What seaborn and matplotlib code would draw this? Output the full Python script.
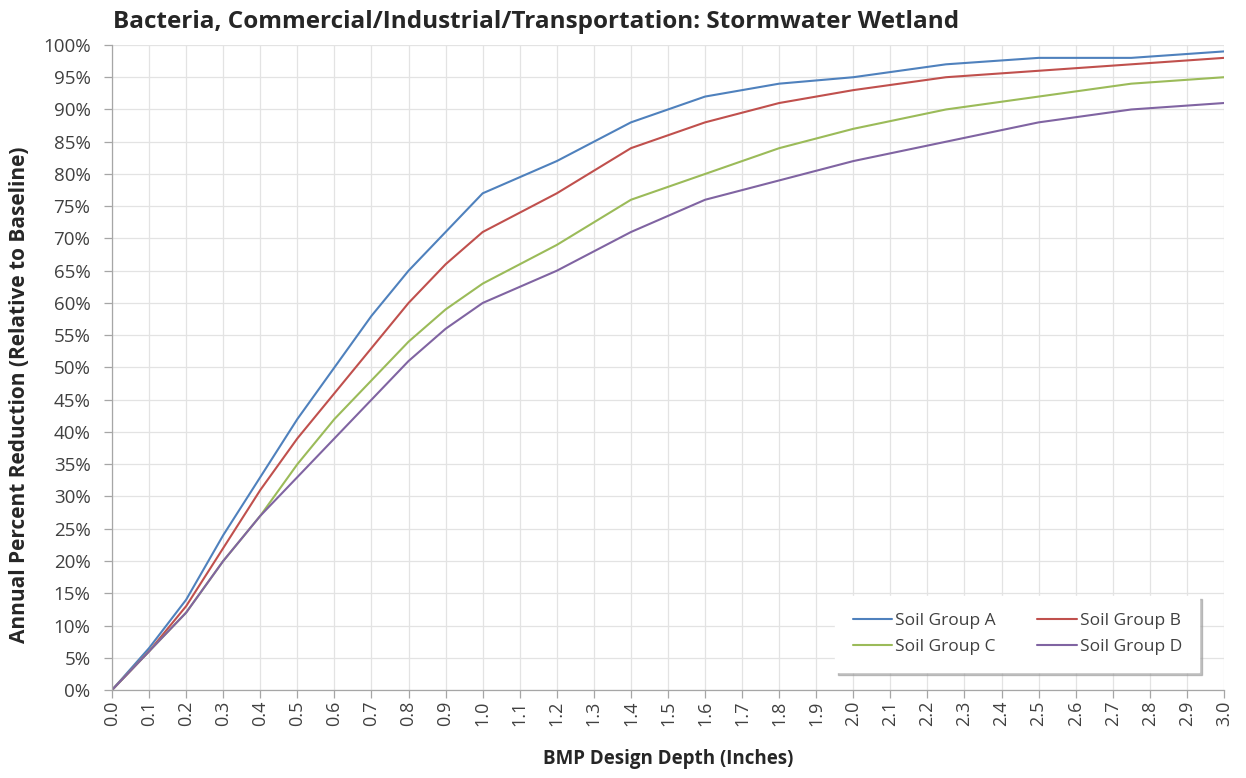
import matplotlib
matplotlib.use("Agg")
import matplotlib.pyplot as plt
import numpy as np
import pandas as pd
import seaborn as sns
from matplotlib.ticker import MultipleLocator, FuncFormatter

# Design depth (inches) and annual percent reduction per soil group
depth = [0.0, 0.1, 0.2, 0.3, 0.4, 0.5, 0.6, 0.7, 0.8, 0.9, 1.0,
         1.2, 1.4, 1.6, 1.8, 2.0, 2.25, 2.5, 2.75, 3.0]
soil_a = [0, 6.5, 14, 24, 33, 42, 50, 58, 65, 71, 77,
          82, 88, 92, 94, 95, 97, 98, 98, 99]
soil_b = [0, 6, 13, 22, 31, 39, 46, 53, 60, 66, 71,
          77, 84, 88, 91, 93, 95, 96, 97, 98]
soil_c = [0, 6, 12, 20, 27, 35, 42, 48, 54, 59, 63,
          69, 76, 80, 84, 87, 90, 92, 94, 95]
soil_d = [0, 6, 12, 20, 27, 33, 39, 45, 51, 56, 60,
          65, 71, 76, 79, 82, 85, 88, 90, 91]
groups = ["Soil Group A", "Soil Group B", "Soil Group C", "Soil Group D"]
colors = ["#4F81BD", "#C0504D", "#9BBB59", "#8064A2"]

df = pd.DataFrame({
    "depth": depth * 4,
    "reduction": soil_a + soil_b + soil_c + soil_d,
    "group": sum([[g] * len(depth) for g in groups], []),
})

sns.set_theme(style="white")
plt.rcParams["font.family"] = ["Open Sans", "DejaVu Sans"]

fig = plt.figure(figsize=(12.46, 7.78), dpi=100)
ax = fig.add_axes([0.0899, 0.1131, 0.8924, 0.8291])

sns.lineplot(data=df, x="depth", y="reduction", hue="group",
             palette=colors, linewidth=1.5, ax=ax, legend=True)

ax.set_xlim(0, 3.0)
ax.set_ylim(0, 100)
ax.xaxis.set_major_locator(MultipleLocator(0.1))
ax.yaxis.set_major_locator(MultipleLocator(5))
ax.xaxis.set_major_formatter(FuncFormatter(lambda v, p: f"{v:.1f}"))
ax.yaxis.set_major_formatter(FuncFormatter(lambda v, p: f"{v:.0f}%"))
ax.grid(True, color="#e3e3e3", linewidth=0.9)
ax.set_axisbelow(True)

for side in ["top", "right"]:
    ax.spines[side].set_visible(False)
for side in ["left", "bottom"]:
    ax.spines[side].set_color("#a6a6a6")
    ax.spines[side].set_linewidth(0.9)

ax.tick_params(axis="both", which="major", direction="out", length=5.5,
               width=0.9, color="#a6a6a6", labelcolor="#404040",
               left=True, bottom=True)
ax.tick_params(axis="y", pad=10, labelsize=13.5)
ax.tick_params(axis="x", pad=2, labelsize=13)
plt.setp(ax.get_xticklabels(), rotation=90)

ax.set_xlabel("BMP Design Depth (Inches)", fontsize=13.5, fontweight="bold",
              color="#262626")
ax.xaxis.set_label_coords(0.5, -0.092)
ax.set_ylabel("Annual Percent Reduction (Relative to Baseline)", fontsize=15,
              fontweight="bold", color="#262626")
ax.yaxis.set_label_coords(-0.074, 0.457)
fig.text(0.091, 0.972, "Bacteria, Commercial/Industrial/Transportation: Stormwater Wetland",
         fontsize=17.5, fontweight="bold", color="#262626", ha="left", va="center")

# legend filled row by row: A, B on the first row, C, D on the second
handles, labels = ax.get_legend_handles_labels()
order = [0, 2, 1, 3]
leg = ax.legend([handles[i] for i in order], [labels[i] for i in order],
                ncol=2, loc="lower right", borderaxespad=0,
                bbox_to_anchor=(0.978, 0.028), fontsize=12.5, frameon=True,
                fancybox=False, shadow={"color": "#9a9a9a", "alpha": 0.6},
                borderpad=1.0, columnspacing=2.4,
                handlelength=2.3, handletextpad=0.15, labelspacing=0.52)
leg.get_frame().set_edgecolor("#ffffff")
leg.get_frame().set_facecolor("white")
for t in leg.get_texts():
    t.set_color("#404040")

fig.savefig("out.png", dpi=100, facecolor="white")
